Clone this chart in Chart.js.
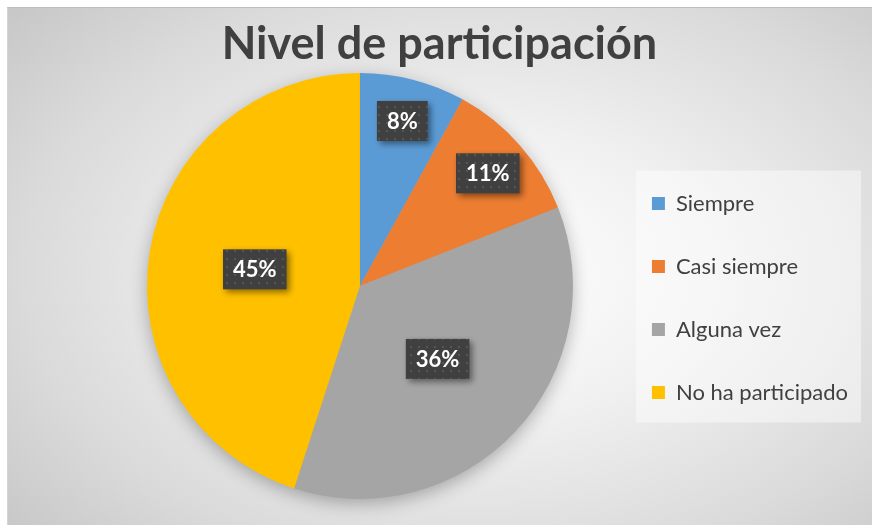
<!DOCTYPE html>
<html>
<head>
<meta charset="utf-8">
<script src="https://cdn.jsdelivr.net/npm/chart.js@4/dist/chart.umd.min.js"></script>
<style>
    html, body { margin: 0; padding: 0; background: #ffffff; overflow: hidden; }
    #frame {
        position: absolute; left: 7px; top: 7px; width: 880px; height: 530px;
        border-top: 1px solid #bdbdbd; border-left: 1px solid #d4d4d4;
        background: radial-gradient(ellipse 70% 75% at 54% 50%, #ffffff 0%, #f1f1f1 35%, #dadada 75%, #c8c8c8 100%);
    }
    #wrap { position: absolute; left: 7px; top: 7px; width: 865px; height: 518px; }
</style>
</head>
<body>
<div id="frame"></div>
<div id="wrap"><canvas id="chart"></canvas></div>
<script>
    'use strict';

    const categories = ['Siempre', 'Casi siempre', 'Alguna vez', 'No ha participado'];
    const values = [8, 11, 36, 45];
    const colors = ['#5b9bd5', '#ed7d31', '#a5a5a5', '#ffc000'];
    const title_text = 'Nivel de participación';

    const font_family = 'Lato, "Open Sans", sans-serif';

    // dark dotted fill used behind the percentage labels
    function make_pattern(ctx) {
        let tile = document.createElement('canvas');
        tile.width = 8;
        tile.height = 8;
        let tctx = tile.getContext('2d');
        tctx.fillStyle = '#404040';
        tctx.fillRect(0, 0, 8, 8);
        tctx.fillStyle = '#565656';
        tctx.fillRect(3, 3, 2, 2);
        return ctx.createPattern(tile, 'repeat');
    }

    // title centred over the whole canvas, legend column dropped a bit
    const layout_fix = {
        id: 'layout_fix',
        afterLayout(chart) {
            let title = chart.titleBlock;
            if (title) {
                title.left = 0;
                title.right = chart.width;
                title.width = chart.width;
            }
            let legend = chart.legend;
            if (legend) {
                legend.top += 45;
                legend.bottom += 45;
            }
        }
    };

    const pie_shadow = {
        id: 'pie_shadow',
        beforeDatasetsDraw(chart) {
            let arc = chart.getDatasetMeta(0).data[0];
            if (!arc) {
                return;
            }
            let ctx = chart.ctx;
            ctx.save();
            ctx.shadowColor = 'rgba(0, 0, 0, 0.3)';
            ctx.shadowBlur = 18;
            ctx.shadowOffsetY = 5;
            ctx.fillStyle = '#a5a5a5';
            ctx.beginPath();
            ctx.arc(arc.x, arc.y, arc.outerRadius - 1, 0, Math.PI * 2);
            ctx.fill();
            ctx.restore();
        }
    };

    const legend_panel = {
        id: 'legend_panel',
        beforeDraw(chart) {
            let legend = chart.legend;
            let boxes = legend && legend.legendHitBoxes;
            if (!boxes || !boxes.length) {
                return;
            }
            let first = boxes[0],
                last = boxes[boxes.length - 1],
                right = Math.max(...boxes.map(b => b.left + b.width)),
                top = first.top + first.height / 2 - 33,
                bottom = last.top + last.height / 2 + 30;
            let ctx = chart.ctx;
            ctx.save();
            ctx.fillStyle = 'rgba(255, 255, 255, 0.45)';
            ctx.fillRect(first.left - 16, top, right - first.left + 29, bottom - top);
            ctx.restore();
        }
    };

    const pct_labels = {
        id: 'pct_labels',
        afterDatasetsDraw(chart) {
            let ctx = chart.ctx,
                meta = chart.getDatasetMeta(0),
                data = chart.data.datasets[0].data,
                total = data.reduce((a, b) => a + b, 0),
                pattern = make_pattern(ctx);
            ctx.save();
            ctx.font = 'bold 22px ' + font_family;
            ctx.textAlign = 'center';
            ctx.textBaseline = 'middle';
            meta.data.forEach((arc, i) => {
                let pct = data[i] / total * 100,
                    mid = (arc.startAngle + arc.endAngle) / 2,
                    r = arc.outerRadius * (pct < 15 ? 0.8 : 0.5),
                    x = arc.x + Math.cos(mid) * r,
                    y = arc.y + Math.sin(mid) * r,
                    text = Math.round(pct) + '%',
                    w = ctx.measureText(text).width + 20,
                    h = 40;
                ctx.save();
                ctx.shadowColor = 'rgba(0, 0, 0, 0.45)';
                ctx.shadowBlur = 6;
                ctx.shadowOffsetX = 3;
                ctx.shadowOffsetY = 3;
                ctx.fillStyle = pattern;
                ctx.fillRect(x - w / 2, y - h / 2, w, h);
                ctx.restore();
                ctx.fillStyle = '#ffffff';
                ctx.fillText(text, x, y + 1);
            });
            ctx.restore();
        }
    };

    Chart.defaults.font.family = font_family;

    let chart = new Chart(document.getElementById('chart'), {
        type: 'pie',
        data: {
            labels: categories,
            datasets: [{
                data: values,
                backgroundColor: colors,
                borderWidth: 0
            }]
        },
        options: {
            responsive: true,
            maintainAspectRatio: false,
            animation: false,
            layout: {
                padding: {left: 102, right: 14, top: 0, bottom: 26}
            },
            plugins: {
                title: {
                    display: true,
                    text: title_text,
                    color: '#404040',
                    font: {size: 45, weight: 'bold'},
                    padding: {top: 10, bottom: 2}
                },
                legend: {
                    position: 'right',
                    labels: {
                        boxWidth: 13,
                        boxHeight: 13,
                        padding: 41,
                        color: '#404040',
                        font: {size: 22}
                    }
                },
                tooltip: {enabled: false}
            }
        },
        plugins: [layout_fix, pie_shadow, legend_panel, pct_labels]
    });
</script>
</body>
</html>
